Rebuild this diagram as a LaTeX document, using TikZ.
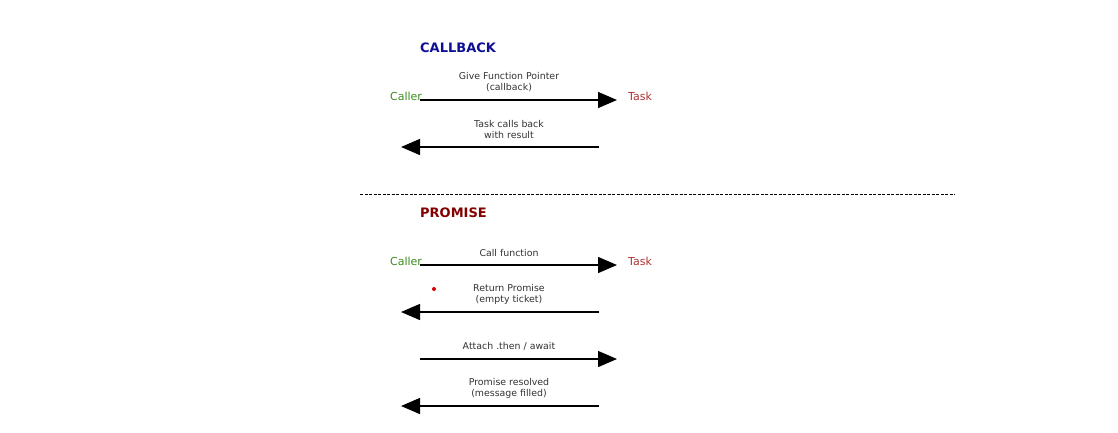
\documentclass[tikz,border=0pt]{standalone}
\usepackage{fontspec}
\setmainfont{DejaVu Sans}
\usetikzlibrary{arrows.meta}
\definecolor{callerc}{RGB}{60,140,30}
\definecolor{taskc}{RGB}{175,50,50}
\definecolor{labelc}{RGB}{50,50,50}
\definecolor{cbtitle}{RGB}{15,15,150}
\definecolor{prtitle}{RGB}{130,0,0}

\begin{document}
\begin{tikzpicture}[x=1pt,y=-1pt,
  title/.style={anchor=west,inner sep=0pt,font=\fontsize{13}{15}\selectfont\bfseries},
  party/.style={inner sep=0pt,font=\fontsize{11}{13}\selectfont},
  msg/.style={-{Triangle[length=19pt,width=16pt]},draw=black,line width=1.4pt},
  note/.style={align=center,inner sep=0pt,text=labelc,font=\fontsize{9.4}{11}\selectfont}
]
\useasboundingbox (0,0) rectangle (1118,432);

% callback
\node[title,text=cbtitle] (cbT) at (420,48) {CALLBACK};
\node[party,text=callerc] (cbCaller) at (406,96) {Caller};
\node[party,text=taskc] (cbTask) at (640,96) {Task};
\coordinate (c1a) at (420,100); \coordinate (c1b) at (617,100);
\coordinate (c2a) at (599,147); \coordinate (c2b) at (401,147);
\draw[msg] (c1a) -- (c1b);
\draw[msg] (c2a) -- (c2b);
\node[note] (n1) at (509,82.5) {Give Function Pointer\\(callback)};
\node[note] (n2) at (509,129.5) {Task calls back\\with result};

% separator
\coordinate (sepL) at (360,194); \coordinate (sepR) at (955,194);
\draw[line width=0.6pt,dash pattern=on 3pt off 1.5pt] (sepL) -- (sepR);

% promise
\node[title,text=prtitle] (prT) at (420,213) {PROMISE};
\node[party,text=callerc] (prCaller) at (406,261) {Caller};
\node[party,text=taskc] (prTask) at (640,261) {Task};
\coordinate (p1a) at (420,265); \coordinate (p1b) at (617,265);
\coordinate (p2a) at (599,312); \coordinate (p2b) at (401,312);
\coordinate (p3a) at (420,359); \coordinate (p3b) at (617,359);
\coordinate (p4a) at (599,406); \coordinate (p4b) at (401,406);
\draw[msg] (p1a) -- (p1b);
\draw[msg] (p2a) -- (p2b);
\draw[msg] (p3a) -- (p3b);
\draw[msg] (p4a) -- (p4b);
\node[note] (m1) at (509,252.5) {Call function};
\node[note] (m2) at (509,294.5) {Return Promise\\(empty ticket)};
\node[note] (m3) at (509,346.5) {Attach .then / await};
\node[note] (m4) at (509,388.5) {Promise resolved\\(message filled)};
\node[circle,fill=red!85!black,inner sep=0pt,minimum size=4pt] (dot) at (434,289) {};
\end{tikzpicture}
\end{document}
